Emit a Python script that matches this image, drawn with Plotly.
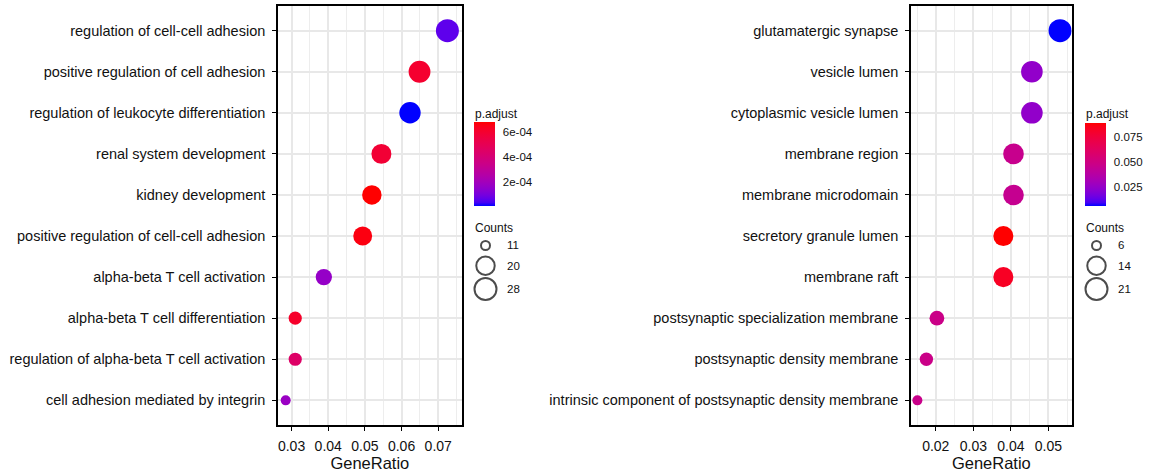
import numpy as np
import plotly.graph_objects as go

# ---- Biological process panel -------------------------------------------
bp_terms = [
    "regulation of cell-cell adhesion",
    "positive regulation of cell adhesion",
    "regulation of leukocyte differentiation",
    "renal system development",
    "kidney development",
    "positive regulation of cell-cell adhesion",
    "alpha-beta T cell activation",
    "alpha-beta T cell differentiation",
    "regulation of alpha-beta T cell activation",
    "cell adhesion mediated by integrin",
]
bp_ratio = [0.0725, 0.0649, 0.0623, 0.0545, 0.0519, 0.0494, 0.0388, 0.0310, 0.0310, 0.0284]
bp_count = [28, 25, 24, 21, 20, 19, 15, 12, 12, 11]
bp_padj = [5.9e-5, 6.0e-4, 4.8e-6, 5.85e-4, 6.8e-4, 6.6e-4, 1.6e-4, 6.12e-4, 4.44e-4, 1.74e-4]
bp_ratio_ticks = [0.03, 0.04, 0.05, 0.06, 0.07]
bp_padj_ticks = [2e-4, 4e-4, 6e-4]
bp_count_breaks = [11, 20, 28]

# ---- Cellular component panel --------------------------------------------
cc_terms = [
    "glutamatergic synapse",
    "vesicle lumen",
    "cytoplasmic vesicle lumen",
    "membrane region",
    "membrane microdomain",
    "secretory granule lumen",
    "membrane raft",
    "postsynaptic specialization membrane",
    "postsynaptic density membrane",
    "intrinsic component of postsynaptic density membrane",
]
cc_ratio = [0.0531, 0.0456, 0.0456, 0.0407, 0.0407, 0.0380, 0.0380, 0.0203, 0.0175, 0.0151]
cc_count = [21, 18, 18, 16, 16, 15, 15, 8, 7, 6]
cc_padj = [0.0055, 0.024, 0.024, 0.046, 0.045, 0.0898, 0.083, 0.048, 0.048, 0.047]
cc_ratio_ticks = [0.02, 0.03, 0.04, 0.05]
cc_padj_ticks = [0.025, 0.050, 0.075]
cc_count_breaks = [6, 14, 21]

# ---- page geometry (pixels) ----------------------------------------------
W, H = 1150, 474
MT, MB = 6, 49
PLOT_H = H - MT - MB


def paper_x(x):
    return x / W


def paper_y(y):
    return (H - MB - y) / PLOT_H


FONT = "Liberation Sans, Arial, sans-serif"
TEXT = "#111111"
D_MIN, D_MAX = 10.0, 23.0


def dot_size(counts, lo, hi):
    c = np.asarray(counts, dtype=float)
    return D_MIN + (D_MAX - D_MIN) * np.sqrt((c - lo) / (hi - lo))


# ---- blue -> red gradient interpolated in CIE Lab -------------------------
def _srgb_to_lab(rgb):
    c = np.asarray(rgb, float) / 255.0
    c = np.where(c > 0.04045, ((c + 0.055) / 1.055) ** 2.4, c / 12.92)
    m = np.array([[0.4124, 0.3576, 0.1805],
                  [0.2126, 0.7152, 0.0722],
                  [0.0193, 0.1192, 0.9505]])
    xyz = m @ c / np.array([0.95047, 1.0, 1.08883])
    f = np.where(xyz > 0.008856, np.cbrt(xyz), 7.787 * xyz + 16 / 116)
    return np.array([116 * f[1] - 16, 500 * (f[0] - f[1]), 200 * (f[1] - f[2])])


def _lab_to_srgb(lab):
    L, a, b = lab
    fy = (L + 16) / 116
    f = np.array([fy + a / 500, fy, fy - b / 200])
    xyz = np.where(f ** 3 > 0.008856, f ** 3, (f - 16 / 116) / 7.787)
    xyz = xyz * np.array([0.95047, 1.0, 1.08883])
    m = np.array([[3.2406, -1.5372, -0.4986],
                  [-0.9689, 1.8758, 0.0415],
                  [0.0557, -0.2040, 1.0570]])
    c = np.clip(m @ xyz, 0, 1)
    c = np.where(c > 0.0031308, 1.055 * c ** (1 / 2.4) - 0.055, 12.92 * c)
    return tuple(int(round(v)) for v in np.clip(c, 0, 1) * 255)


def lab_scale(c0, c1, n=25):
    l0, l1 = _srgb_to_lab(c0), _srgb_to_lab(c1)
    out = []
    for t in np.linspace(0, 1, n):
        r, g, b = _lab_to_srgb(l0 + (l1 - l0) * t)
        out.append([float(t), f"rgb({r},{g},{b})"])
    return out


GRADIENT = lab_scale((0, 0, 255), (255, 0, 0))

panels = [
    dict(terms=bp_terms, ratio=bp_ratio, count=bp_count, padj=bp_padj,
         xticks=bp_ratio_ticks, cticks=bp_padj_ticks, ctext=[f"{v:.0e}" for v in bp_padj_ticks],
         breaks=bp_count_breaks, box=(278, 461.7), xrange=(0.0263, 0.0764),
         legend_x=474, bar=(473.5, 122.3, 21, 84.4)),
    dict(terms=cc_terms, ratio=cc_ratio, count=cc_count, padj=cc_padj,
         xticks=cc_ratio_ticks, cticks=cc_padj_ticks, ctext=[f"{v:.3f}" for v in cc_padj_ticks],
         breaks=cc_count_breaks, box=(911, 1071.7), xrange=(0.0134, 0.0562),
         legend_x=1085, bar=(1085, 122.7, 20.5, 83.3)),
]

fig = go.Figure()
annotations = []
shapes = []
layout = dict(
    width=W, height=H,
    margin=dict(l=0, r=0, t=MT, b=MB),
    paper_bgcolor="white", plot_bgcolor="rgba(0,0,0,0)",
    font=dict(family=FONT, color=TEXT),
    showlegend=False,
)

for i, p in enumerate(panels, start=1):
    sfx = "" if i == 1 else str(i)
    lo, hi = min(p["count"]), max(p["count"])
    fig.add_trace(go.Scatter(
        x=p["ratio"], y=p["terms"], mode="markers",
        xaxis=f"x{sfx}", yaxis=f"y{sfx}",
        marker=dict(size=dot_size(p["count"], lo, hi), color=p["padj"],
                    coloraxis=f"coloraxis{sfx}", line=dict(width=0), opacity=1),
        hoverinfo="x+y",
    ))
    x0, x1 = p["box"]
    layout[f"xaxis{sfx}"] = dict(
        domain=[paper_x(x0), paper_x(x1)], range=list(p["xrange"]), anchor=f"y{sfx}",
        tickvals=p["xticks"], ticktext=[f"{v:.2f}" for v in p["xticks"]],
        ticks="outside", ticklen=4, tickwidth=1.3, tickcolor="black",
        tickfont=dict(size=14, color=TEXT), ticklabelstandoff=3,
        showline=True, mirror=True, linecolor="black", linewidth=1.6,
        showgrid=True, gridcolor="#E8E8E8", gridwidth=1.6, zeroline=False,
        minor=dict(dtick=0.005, tick0=0.0, showgrid=True, gridcolor="#EDEDED", gridwidth=1.2),
        title=dict(text="GeneRatio", font=dict(size=16.5, color=TEXT), standoff=2),
    )
    layout[f"yaxis{sfx}"] = dict(
        domain=[0, 1], anchor=f"x{sfx}", type="category",
        categoryorder="array", categoryarray=p["terms"], range=[9.6, -0.6],
        ticks="outside", ticklen=4, tickwidth=1.3, tickcolor="black",
        tickfont=dict(size=14.5, color=TEXT), ticklabelstandoff=4,
        showline=True, mirror=True, linecolor="black", linewidth=1.6,
        showgrid=True, gridcolor="#E8E8E8", gridwidth=1.6, zeroline=False,
    )

    bx, by, bw, bh = p["bar"]
    layout[f"coloraxis{sfx}"] = dict(
        colorscale=GRADIENT,
        colorbar=dict(
            x=paper_x(bx), xanchor="left", xref="paper",
            y=paper_y(by), yanchor="top", yref="paper",
            thicknessmode="pixels", thickness=bw, lenmode="pixels", len=bh,
            xpad=0, ypad=0, outlinewidth=0,
            tickvals=p["cticks"], ticktext=p["ctext"],
            ticks="outside", ticklen=6, tickcolor="rgba(0,0,0,0)",
            tickfont=dict(size=11.5, color=TEXT),
        ),
    )
    # short white tick marks on both edges of the colour bar
    vmin, vmax = min(p["padj"]), max(p["padj"])
    for v in p["cticks"]:
        ty = by + (vmax - v) / (vmax - vmin) * bh
        for ex0, ex1 in ((bx, bx + 4), (bx + bw - 4, bx + bw)):
            shapes.append(dict(type="line", xref="paper", yref="paper",
                               x0=paper_x(ex0), x1=paper_x(ex1), y0=paper_y(ty), y1=paper_y(ty),
                               line=dict(color="white", width=1.2)))

    lx = p["legend_x"]
    annotations.append(dict(text="p.adjust", x=paper_x(lx - 1), y=paper_y(114), xref="paper", yref="paper",
                            xanchor="left", yanchor="middle", showarrow=False,
                            font=dict(size=12, color=TEXT)))
    annotations.append(dict(text="Counts", x=paper_x(lx - 1), y=paper_y(228), xref="paper", yref="paper",
                            xanchor="left", yanchor="middle", showarrow=False,
                            font=dict(size=12, color=TEXT)))

    # size key: open circles stacked under the "Counts" title
    kd = dot_size(p["breaks"], lo, hi)
    heights = np.maximum(kd + 2, 19.0)
    centers = 236 + np.cumsum(heights) - heights / 2
    cx = lx + 11.5
    fig.add_trace(go.Scatter(
        x=[cx] * len(kd), y=centers, mode="markers", xaxis="x3", yaxis="y3",
        marker=dict(symbol="circle-open", size=kd - 1, color="black", line=dict(width=2, color="black")),
        hoverinfo="skip",
    ))
    for b, yc in zip(p["breaks"], centers):
        annotations.append(dict(text=str(b), x=paper_x(cx + 19), y=paper_y(yc), xref="paper", yref="paper",
                                xanchor="left", yanchor="middle", showarrow=False,
                                font=dict(size=11.5, color=TEXT)))

# pixel-space overlay axes used for the size key
layout["xaxis3"] = dict(domain=[0, 1], range=[0, W], anchor="y3", visible=False, fixedrange=True)
layout["yaxis3"] = dict(domain=[0, 1], range=[H - MB, MT], anchor="x3", visible=False, fixedrange=True)
layout["annotations"] = annotations
layout["shapes"] = shapes

fig.update_layout(**layout)
fig.write_html("out.html")
